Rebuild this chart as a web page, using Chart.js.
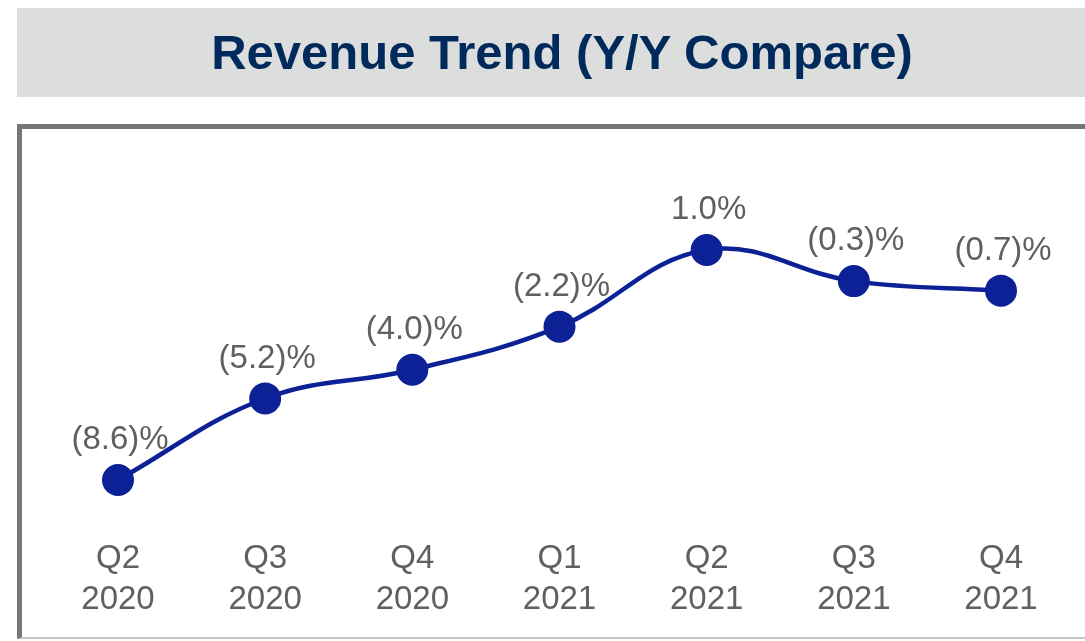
<!DOCTYPE html>
<html>
<head>
<meta charset="utf-8">
<title>Revenue Trend (Y/Y Compare)</title>
<script src="https://cdn.jsdelivr.net/npm/chart.js@4/dist/chart.umd.min.js"></script>
<style>
    body {
        margin: 0;
        width: 1085px;
        height: 641px;
        overflow: hidden;
        background: #ffffff;
        position: relative;
        font-family: "Liberation Sans", Arial, Helvetica, sans-serif;
    }
    #banner {
        position: absolute;
        left: 17px;
        top: 8px;
        width: 1090px;
        height: 89px;
        background: #dcdddd;
    }
    #banner h1 {
        margin: 0;
        position: absolute;
        left: 0;
        width: 1090px;
        top: 0;
        line-height: 89px;
        text-align: center;
        font-size: 49px;
        font-weight: bold;
        color: #002a5c;
    }
    #frame {
        position: absolute;
        left: 17px;
        top: 124px;
        width: 1100px;
        height: 508px;
        border-top: 5px solid #767676;
        border-left: 5px solid #767676;
        border-bottom: 2px solid #c4c4c4;
    }
    #chart {
        position: absolute;
        left: 0;
        top: 0;
    }
</style>
</head>
<body>
<div id="banner"><h1>Revenue Trend (Y/Y Compare)</h1></div>
<div id="frame"></div>
<canvas id="chart" width="1085" height="641"></canvas>
<script>
// quarters, shown on two lines under each point
var quarters = ['Q2', 'Q3', 'Q4', 'Q1', 'Q2', 'Q3', 'Q4'];
var years = ['2020', '2020', '2020', '2021', '2021', '2021', '2021'];
// year over year revenue change, in percent
var yoyChange = [-8.6, -5.2, -4.0, -2.2, 1.0, -0.3, -0.7];

var lineColor = '#0c2196';
var textColor = '#606060';
var fontFamily = '"Liberation Sans", Arial, Helvetica, sans-serif';

function formatPercent(v) {
    if (v < 0)
        return '(' + Math.abs(v).toFixed(1) + ')%';
    return v.toFixed(1) + '%';
}

// draws the value above each point
var valueLabels = {
    id: 'valueLabels',
    afterDatasetsDraw: function (chart) {
        var ctx = chart.ctx;
        var meta = chart.getDatasetMeta(0);
        ctx.save();
        ctx.font = '33px ' + fontFamily;
        ctx.fillStyle = textColor;
        ctx.textAlign = 'center';
        ctx.textBaseline = 'middle';
        meta.data.forEach(function (pt, i) {
            ctx.fillText(formatPercent(yoyChange[i]), pt.x + 2, pt.y - 40);
        });
        ctx.restore();
    }
};

var labels = [];
for (var i = 0; i < quarters.length; i++) {
    labels.push([quarters[i], years[i]]);
}

var ctx = document.getElementById('chart');
var myChart = new Chart(ctx, {
    type: 'line',
    data: {
        labels: labels,
        datasets: [{
                data: yoyChange,
                borderColor: lineColor,
                backgroundColor: lineColor,
                borderWidth: 4.5,
                pointRadius: 16,
                pointHoverRadius: 16,
                pointBackgroundColor: lineColor,
                pointBorderWidth: 0,
                tension: 0.4,
                fill: false,
                clip: false
            }]
    },
    options: {
        responsive: false,
        animation: false,
        events: [],
        layout: {
            padding: {left: 118, right: 84, top: 226, bottom: -5}
        },
        plugins: {
            legend: {display: false},
            tooltip: {enabled: false}
        },
        scales: {
            x: {
                offset: false,
                border: {display: false},
                grid: {display: false, drawTicks: false},
                ticks: {
                    color: textColor,
                    padding: 25,
                    maxRotation: 0,
                    autoSkip: false,
                    font: {family: fontFamily, size: 33, lineHeight: 1.25}
                }
            },
            y: {
                display: false,
                min: -10,
                max: 2
            }
        }
    },
    plugins: [valueLabels]
});
</script>
</body>
</html>
